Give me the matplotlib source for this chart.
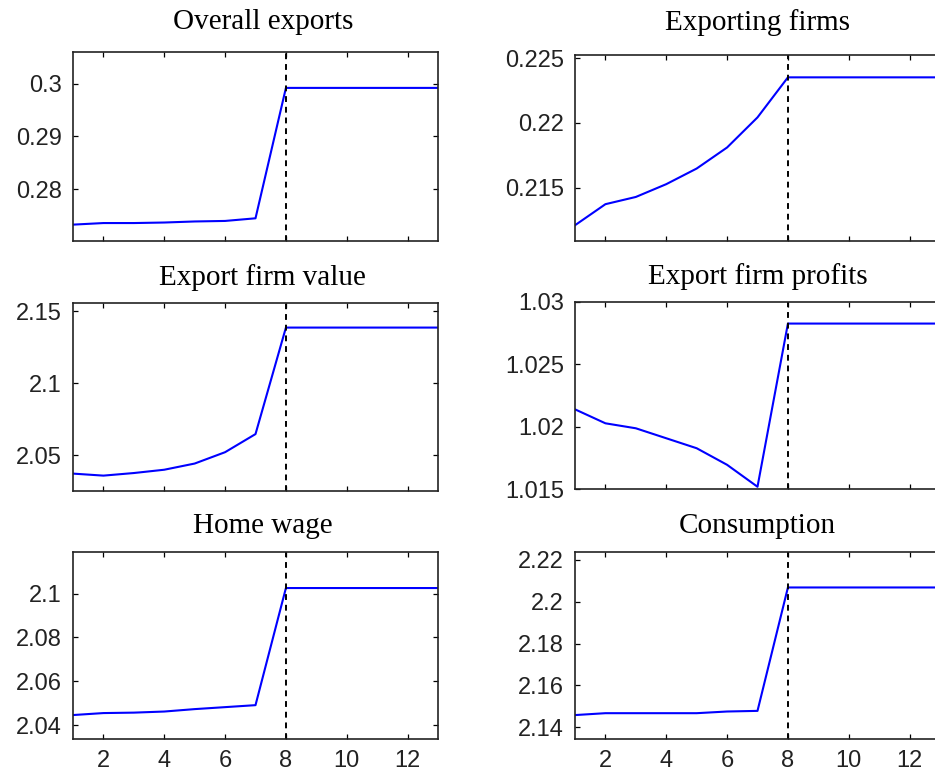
import numpy as np
import matplotlib
matplotlib.use("Agg")
import matplotlib.pyplot as plt
from matplotlib.ticker import FormatStrFormatter

# periods 1..13, shock lands at period 8
periods = np.arange(1, 14)
shock_period = 8

overall_exports = [0.2733, 0.2736, 0.2736, 0.2737, 0.2739, 0.2740, 0.2745,
                   0.2992, 0.2992, 0.2992, 0.2992, 0.2992, 0.2992]
exporting_firms = [0.21208, 0.21371, 0.21427, 0.21526, 0.21647, 0.21810, 0.22043,
                   0.22353, 0.22353, 0.22353, 0.22353, 0.22353, 0.22353]
export_firm_value = [2.0372, 2.0358, 2.0376, 2.0399, 2.0442, 2.0521, 2.0647,
                     2.1388, 2.1388, 2.1388, 2.1388, 2.1388, 2.1388]
export_firm_profits = [1.02139, 1.02027, 1.01987, 1.01907, 1.01827, 1.01694, 1.01518,
                       1.02827, 1.02827, 1.02827, 1.02827, 1.02827, 1.02827]
home_wage = [2.0447, 2.0456, 2.0458, 2.0463, 2.0474, 2.0483, 2.0492,
             2.1025, 2.1025, 2.1025, 2.1025, 2.1025, 2.1025]
consumption = [2.1459, 2.1468, 2.1468, 2.1468, 2.1468, 2.1476, 2.1479,
               2.2067, 2.2067, 2.2067, 2.2067, 2.2067, 2.2067]

titles = ["Overall exports", "Exporting firms", "Export firm value",
          "Export firm profits", "Home wage", "Consumption"]
series = [overall_exports, exporting_firms, export_firm_value,
          export_firm_profits, home_wage, consumption]
ylims = [(0.2702, 0.306), (0.21086, 0.22526), (2.0251, 2.1559),
         (1.015, 1.03), (2.0338, 2.1189), (2.1345, 2.2236)]
yticks = [[0.28, 0.29, 0.30], [0.215, 0.22, 0.225], [2.05, 2.10, 2.15],
          [1.015, 1.02, 1.025, 1.03], [2.04, 2.06, 2.08, 2.10],
          [2.14, 2.16, 2.18, 2.20, 2.22]]

W, H = 935, 779
fig = plt.figure(figsize=(W / 100, H / 100), dpi=100)

# axes boxes in pixels: left, top, right, bottom
boxes = [(73, 52, 438, 241), (575, 55, 940, 241),
         (73, 303, 438, 491), (575, 302, 940, 489),
         (73, 552, 438, 739), (575, 552, 940, 739)]
title_gap = [23, 25, 18, 18, 19, 19]  # px from axes top to title baseline

for i, (title, y) in enumerate(zip(titles, series)):
    l, t, r, b = boxes[i]
    ax = fig.add_axes([l / W, 1 - b / H, (r - l) / W, (b - t) / H])
    ax.plot(periods, y, color="#0000ff", lw=1.5)
    ax.axvline(shock_period, color="black", ls=(0, (3, 2.5)), lw=1.4)
    ax.set_xlim(1, 13)
    ax.set_ylim(*ylims[i])
    ax.set_xticks(np.arange(2, 13, 2))
    ax.set_yticks(yticks[i])
    ax.yaxis.set_major_formatter(FormatStrFormatter("%g"))
    ax.tick_params(direction="in", length=3.6, width=0.9, top=True, right=True,
                   labelsize=17, pad=8, labelcolor="#222222")
    for lab in ax.get_xticklabels() + ax.get_yticklabels():
        lab.set_family("Liberation Sans")
    if i < 4:
        ax.tick_params(labelbottom=False)
    for s in ax.spines.values():
        s.set_linewidth(1.2)
        s.set_color("#222222")
    tx = 0.52 if i % 2 == 0 else 0.5
    ax.annotate(title, xy=(tx, 1), xycoords="axes fraction",
                xytext=(0, title_gap[i] * 0.72), textcoords="offset points",
                ha="center", va="baseline", fontsize=21,
                family="Liberation Serif")

fig.savefig("out.png", dpi=100)
